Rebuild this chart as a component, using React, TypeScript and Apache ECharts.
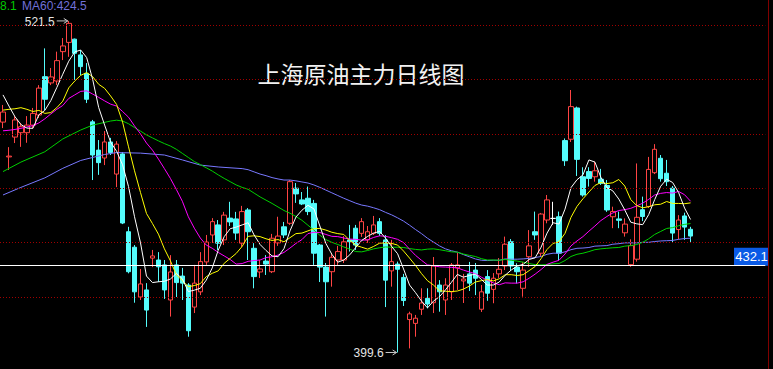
import React, { useEffect, useRef } from "react";
import * as echarts from "echarts";

// ---- data ----
// [open, close, low, high]
const ohlc: number[][] = [
  [484.3, 488.0, 482.1, 490.6], [471.5, 471.8, 466.7, 475.1], [478.8, 485.1, 476.6, 486.5], [480.4, 482.6, 475.2, 484.0],
  [480.4, 483.2, 476.7, 486.5], [483.2, 487.5, 482.1, 489.5], [486.9, 496.8, 485.8, 497.9], [501.0, 492.7, 488.7, 511.4],
  [498.7, 500.9, 497.9, 504.2], [499.4, 506.9, 497.9, 510.2], [510.2, 512.3, 507.1, 515.2], [513.6, 520.6, 508.3, 521.5],
  [514.8, 509.6, 499.8, 515.0], [509.0, 504.7, 501.6, 510.8], [502.2, 492.7, 491.3, 506.0], [484.4, 472.2, 463.0, 485.1],
  [474.0, 469.4, 464.9, 477.7], [471.1, 477.0, 468.5, 481.0], [477.0, 473.1, 472.2, 478.5], [465.2, 476.2, 460.4, 477.3],
  [472.6, 447.2, 446.8, 473.3], [444.0, 429.3, 428.7, 445.8], [438.3, 421.9, 417.9, 439.1], [420.0, 424.8, 418.9, 430.3],
  [422.6, 415.2, 409.0, 425.1], [434.3, 435.1, 431.0, 437.3], [433.6, 431.1, 425.5, 436.5], [431.8, 422.6, 419.3, 433.6],
  [418.9, 429.2, 412.8, 435.4], [431.8, 425.3, 420.0, 433.6], [427.7, 425.1, 418.9, 430.7], [424.4, 407.6, 405.4, 425.1],
  [416.3, 425.1, 414.1, 431.8], [421.9, 433.0, 420.7, 436.5], [432.9, 440.2, 431.8, 442.8], [442.8, 447.7, 439.9, 449.0],
  [446.5, 439.8, 437.3, 448.3], [441.0, 450.1, 439.1, 451.3], [449.0, 447.6, 446.1, 455.0], [448.7, 443.5, 441.0, 451.3],
  [439.8, 451.4, 438.4, 453.5], [452.0, 444.0, 433.6, 452.7], [437.9, 427.5, 423.2, 439.8], [429.2, 430.3, 427.0, 433.6],
  [433.2, 432.1, 428.1, 435.4], [429.3, 441.6, 428.8, 443.2], [439.9, 442.4, 438.8, 449.5], [445.8, 442.8, 441.7, 447.6],
  [447.1, 462.4, 446.5, 463.0], [460.0, 457.9, 454.6, 461.9], [455.7, 454.2, 453.8, 458.6], [456.3, 451.4, 450.1, 460.6],
  [454.4, 436.1, 431.8, 455.7], [439.1, 431.0, 425.5, 439.5], [431.0, 425.6, 412.8, 432.5], [429.3, 434.6, 423.8, 436.2],
  [433.6, 436.7, 431.8, 438.8], [433.6, 440.3, 432.5, 442.4], [441.0, 440.3, 436.7, 446.5], [445.3, 439.1, 437.3, 446.5],
  [443.4, 447.7, 442.1, 449.0], [441.0, 444.0, 439.9, 446.1], [443.4, 446.5, 442.8, 449.8], [447.7, 443.4, 442.4, 449.0],
  [441.0, 426.2, 416.3, 442.8], [429.6, 433.0, 423.8, 441.0], [432.1, 430.2, 399.6, 433.0], [427.2, 418.7, 416.7, 428.5],
  [411.7, 413.8, 401.1, 414.6], [410.3, 412.2, 405.4, 413.4], [415.5, 417.8, 413.4, 423.2], [419.5, 417.4, 415.8, 423.2],
  [417.9, 431.4, 414.1, 434.7], [424.4, 421.9, 414.6, 426.2], [418.9, 424.4, 413.4, 426.9], [421.9, 431.8, 418.9, 432.5],
  [430.7, 431.8, 422.6, 436.2], [425.9, 426.6, 417.8, 428.5], [428.5, 425.1, 422.2, 432.9], [429.9, 426.9, 420.7, 432.5],
  [415.5, 421.9, 414.5, 424.4], [427.5, 421.4, 418.6, 429.9], [422.8, 426.9, 417.7, 428.8], [428.5, 430.2, 427.0, 434.3],
  [431.4, 439.4, 429.9, 442.2], [440.3, 431.4, 429.6, 441.3], [431.0, 429.3, 425.0, 432.4], [423.2, 429.9, 420.1, 432.9],
  [434.8, 438.8, 431.1, 444.6], [444.0, 442.8, 441.0, 451.4], [436.1, 450.5, 434.7, 450.9], [448.3, 455.7, 447.1, 457.5],
  [448.9, 448.9, 446.5, 455.0], [449.5, 436.1, 433.6, 451.4], [477.5, 470.1, 468.2, 478.3], [478.0, 490.0, 477.0, 496.1],
  [489.5, 470.6, 464.5, 490.0], [464.2, 457.5, 456.9, 467.7], [466.1, 463.6, 460.6, 467.7], [464.2, 466.4, 462.4, 469.8],
  [463.3, 461.8, 461.2, 467.1], [461.0, 452.0, 451.3, 463.0], [449.5, 451.4, 445.3, 453.2], [448.7, 448.2, 445.3, 451.4],
  [443.6, 446.8, 442.2, 448.9], [431.9, 438.9, 431.1, 441.2], [433.9, 449.3, 433.0, 469.1], [452.1, 449.6, 447.9, 456.9],
  [453.3, 466.9, 452.7, 471.5], [465.7, 474.3, 465.2, 476.2], [471.0, 463.5, 462.4, 472.2], [465.5, 462.4, 460.8, 470.4],
  [460.0, 443.5, 440.0, 460.8], [444.8, 448.3, 441.2, 450.1], [449.8, 445.7, 441.0, 451.0], [444.9, 442.4, 440.0, 445.8],
];

const ma5: (number | null)[] = [
  494.3, 490.2, 486.3, 483.4, 482.1, 482.0, 487.0, 488.6, 492.2, 497.0,
  501.9, 506.7, 510.1, 510.8, 508.0, 500.0, 489.7, 483.2, 476.9, 473.6,
  468.6, 460.6, 449.5, 439.9, 427.7, 425.3, 425.6, 425.8, 426.6, 428.7,
  426.7, 422.0, 422.5, 423.2, 426.2, 430.7, 437.2, 442.2, 445.1, 445.7,
  446.5, 447.3, 442.8, 439.3, 437.1, 435.1, 434.8, 437.8, 444.3, 449.4,
  451.9, 453.7, 452.4, 446.1, 439.7, 435.7, 432.8, 433.6, 435.5, 438.2,
  440.8, 442.3, 443.5, 444.1, 441.6, 438.6, 435.9, 430.3, 424.4, 421.6,
  418.5, 416.0, 418.5, 420.1, 422.6, 425.4, 428.3, 427.3, 427.9, 428.4,
  426.5, 424.4, 424.4, 425.5, 428.0, 429.9, 431.4, 432.0, 433.8, 434.4,
  438.3, 443.5, 447.3, 446.8, 452.3, 460.2, 463.1, 464.9, 470.4, 469.6,
  464.0, 460.3, 459.0, 456.0, 452.0, 447.5, 446.9, 446.6, 450.3, 455.8,
  460.7, 463.3, 462.1, 458.4, 452.7, 448.5,
];

const ma10: (number | null)[] = [
  488.7, 489.0, 489.2, 489.6, 489.0, 488.2, 488.6, 487.5, 487.8, 489.6,
  492.0, 496.9, 499.4, 501.5, 502.5, 501.0, 498.2, 496.7, 493.9, 490.8,
  484.3, 475.2, 466.4, 458.4, 450.7, 447.0, 443.1, 437.7, 433.3, 428.2,
  426.0, 423.8, 424.2, 424.9, 427.5, 428.7, 429.6, 432.4, 434.2, 436.0,
  438.6, 442.3, 442.5, 442.2, 441.4, 440.8, 441.1, 440.3, 441.8, 443.3,
  443.5, 444.3, 445.1, 445.2, 444.6, 443.8, 443.3, 443.0, 440.8, 439.0,
  438.3, 437.6, 438.6, 439.8, 439.9, 439.7, 439.1, 436.9, 434.3, 431.6,
  428.6, 426.0, 424.4, 422.3, 422.1, 422.0, 422.2, 422.9, 424.0, 425.5,
  426.0, 426.4, 425.9, 426.7, 428.2, 428.2, 427.9, 428.2, 429.7, 431.2,
  434.1, 437.5, 439.7, 440.3, 443.4, 449.3, 453.3, 456.1, 458.6, 461.0,
  462.1, 461.7, 462.0, 463.2, 460.8, 455.8, 453.6, 452.8, 453.2, 453.9,
  454.1, 455.1, 454.4, 454.4, 454.3, 454.6,
];

const ma20: (number | null)[] = [
  481.1, 481.3, 481.6, 482.0, 482.5, 483.0, 484.0, 485.5, 487.3, 489.0,
  490.4, 493.0, 494.3, 495.6, 495.8, 494.6, 493.4, 492.1, 490.9, 490.2,
  488.2, 486.1, 482.9, 480.0, 476.6, 474.0, 470.7, 467.2, 463.6, 459.5,
  455.2, 449.5, 445.3, 441.7, 439.1, 437.9, 436.4, 435.1, 433.8, 432.1,
  432.3, 433.1, 433.4, 433.6, 434.5, 434.8, 435.4, 436.4, 438.0, 439.7,
  441.1, 443.3, 443.8, 443.7, 443.0, 442.3, 442.2, 441.7, 441.3, 441.2,
  440.9, 441.0, 441.9, 442.5, 442.3, 441.8, 441.2, 440.0, 437.6, 435.3,
  433.5, 431.8, 431.5, 431.1, 431.0, 430.9, 430.7, 429.9, 429.2, 428.6,
  427.3, 426.2, 425.2, 424.5, 425.2, 425.1, 425.1, 425.6, 426.9, 428.4,
  430.1, 432.0, 432.8, 433.5, 435.8, 438.8, 440.6, 442.2, 444.2, 446.1,
  448.1, 449.6, 450.9, 451.8, 452.1, 452.6, 453.5, 454.5, 455.9, 457.5,
  458.1, 458.4, 458.2, 458.8, 457.6, 455.2,
];

const ma40: (number | null)[] = [
  466.1, null, null, 469.6, null, null, null, 473.4, null, null,
  478.1, null, null, 481.4, null, 483.2, null, null, 484.7, 485.0,
  484.7, 483.7, 482.3, 481.0, 479.6, 478.5, 477.4, 476.4, 475.5, 474.3,
  472.8, 471.3, 469.8, 468.7, 467.5, 466.3, 464.9, 463.6, 462.4, 461.2,
  460.3, 459.6, 458.2, 456.8, 455.6, 454.4, 453.1, 451.8, 450.8, 449.6,
  448.2, 446.4, 444.6, 442.7, 441.1, 440.1, 439.3, 438.4, 437.6, 436.7,
  436.6, 437.1, 437.7, 438.1, 438.4, 438.3, 438.3, 438.2, 437.8, 437.5,
  437.3, 437.6, 437.7, 437.4, 437.0, 436.6, 436.5, 435.8, 435.3, 434.9,
  434.1, 433.6, 433.6, 433.5, 433.8, 433.5, 433.2, 432.8, 432.3, 431.9,
  431.8, 431.9, 432.2, 432.3, 433.4, 434.9, 435.7, 436.1, 436.7, 437.4,
  437.7, 437.9, 438.1, 438.2, 438.7, 438.9, 439.3, 440.1, 441.4, 443.0,
  444.1, 445.2, 445.5, 446.2, 446.7, 447.0,
];

const ma60: (number | null)[] = [
  457.5, null, null, 460.3, null, null, null, 463.8, null, null,
  467.3, null, null, 470.2, null, null, null, 472.4, null, 473.1,
  null, null, null, 472.9, null, null, null, 472.2, null, null,
  470.4, null, null, 468.5, null, null, 467.8, null, null, null,
  467.2, 466.8, 466.0, 465.2, 464.6, 463.9, 463.4, 463.0, 463.0, 462.7,
  462.3, 461.9, 461.2, 460.3, 459.3, 458.3, 457.3, 456.3, 455.4, 454.5,
  453.8, 453.4, 452.8, 452.1, 451.1, 450.2, 449.1, 447.9, 446.4, 444.8,
  443.3, 441.6, 440.2, 438.8, 437.7, 437.0, 436.5, 435.6, 434.8, 434.0,
  433.5, 433.4, 433.5, 433.5, 434.0, 433.9, 433.9, 434.0, 434.2, 434.5,
  434.9, 435.7, 436.1, 436.1, 436.6, 437.4, 437.9, 438.0, 438.2, 438.7,
  438.8, 438.9, 439.4, 439.6, 439.9, 439.9, 439.9, 440.1, 440.1, 440.4,
  440.6, 440.7, 440.8, 441.2, 441.5, 441.6,
];

const gridLevels = [420, 440, 460, 480, 500, 520];
const highIndex = 11;
const highValue = 521.5;
const lowIndex = 66;
const lowValue = 399.6;
const crossValue = 431.5;
const crossLabel = "432.1";
const legendTail = "8.1";
const legendMa60 = "MA60:424.5";
const titleText = "上海原油主力日线图";

// ---- layout / style ----
const SLOTS = 128;
const RED = "#ff4444";
const CYAN = "#54fcfc";
const C_MA5 = "#ffffff";
const C_MA10 = "#ffff00";
const C_MA20 = "#ff00ff";
const C_MA40 = "#00d000";
const C_MA60 = "#7878ff";
const GRID_RED = "#a00000";

export default function App() {
  const ref = useRef<HTMLDivElement>(null);

  useEffect(() => {
    if (!ref.current) return;
    const chart = echarts.init(ref.current, undefined, { renderer: "svg" });
    const categories = Array.from({ length: SLOTS }, (_, i) => "D" + (i + 1));

    const candleData = ohlc.map((d) =>
      d[0] === d[1]
        ? {
            value: d,
            itemStyle: { color: "#ffffff", color0: "#ffffff", borderColor: "#ffffff", borderColor0: "#ffffff", borderColorDoji: "#ffffff" },
          }
        : d
    );

    const maLine = (name: string, data: (number | null)[], color: string) => ({
      name,
      type: "line",
      data,
      symbol: "none",
      connectNulls: true,
      silent: true,
      lineStyle: { color, width: 1 },
      z: 3,
    });

    chart.setOption({
      animation: false,
      backgroundColor: "#000000",
      grid: { left: -2.7, top: 0, width: 768, height: 369, containLabel: false },
      xAxis: {
        type: "category",
        data: categories,
        boundaryGap: true,
        show: false,
      },
      yAxis: {
        type: "value",
        min: 393.53,
        max: 529.19,
        show: false,
        splitLine: { show: false },
      },
      series: [
        {
          name: "K",
          type: "candlestick",
          data: candleData,
          barWidth: 5,
          silent: true,
          itemStyle: {
            color: "#000000",
            color0: CYAN,
            borderColor: RED,
            borderColor0: CYAN,
            borderColorDoji: "#ffffff",
            borderWidth: 1,
          },
          markLine: {
            silent: true,
            symbol: "none",
            label: { show: false },
            animation: false,
            data: [
              ...gridLevels.map((v) => ({
                yAxis: v,
                lineStyle: { color: GRID_RED, type: [1, 2], width: 1 },
              })),
              { yAxis: crossValue, lineStyle: { color: "#ffffff", type: "solid", width: 1.2 } },
            ],
          },
          z: 2,
        },
        maLine("MA60", ma60, C_MA60),
        maLine("MA40", ma40, C_MA40),
        maLine("MA20", ma20, C_MA20),
        maLine("MA10", ma10, C_MA10),
        maLine("MA5", ma5, C_MA5),
      ],
    });

    const toPx = (i: number, v: number) =>
      chart.convertToPixel({ xAxisIndex: 0, yAxisIndex: 0 }, [i, v]) as number[];
    const [hx, hy] = toPx(highIndex, highValue);
    const [lx, ly] = toPx(lowIndex, lowValue);
    const [, cy] = toPx(0, crossValue);

    const arrow = (x: number, y: number) => [
      { type: "line", shape: { x1: x - 12, y1: y, x2: x - 1, y2: y }, style: { stroke: "#c8c8c8", lineWidth: 1 } },
      { type: "polyline", shape: { points: [[x - 5, y - 2.5], [x - 1, y], [x - 5, y + 2.5]] }, style: { stroke: "#c8c8c8", lineWidth: 1, fill: null } },
    ];
    const numFont = '12px "Liberation Sans", Arial, sans-serif';

    chart.setOption({
      graphic: [
        {
          type: "text",
          x: 361,
          y: 73,
          style: {
            text: titleText,
            align: "center",
            verticalAlign: "middle",
            fill: "#f2f2f2",
            font: '23px "Noto Sans CJK SC", sans-serif',
          },
        },
        { type: "text", style: { text: highValue.toFixed(1), x: hx - 14, y: hy + 1, align: "right", verticalAlign: "middle", fill: "#e6e6e6", font: numFont } },
        ...arrow(hx, hy),
        { type: "text", style: { text: lowValue.toFixed(1), x: lx - 14, y: ly + 1, align: "right", verticalAlign: "middle", fill: "#e6e6e6", font: numFont } },
        ...arrow(lx, ly),
        { type: "text", style: { text: legendTail, x: 0, y: 6, align: "left", verticalAlign: "middle", fill: "#00c800", font: numFont } },
        { type: "text", style: { text: legendMa60, x: 22, y: 6, align: "left", verticalAlign: "middle", fill: "#7070d8", font: numFont } },
        { type: "rect", shape: { x: 734, y: cy - 18, width: 35, height: 18 }, style: { fill: "#0a5ae6" } },
        { type: "text", style: { text: crossLabel, x: 751.5, y: cy - 9, align: "center", verticalAlign: "middle", fill: "#ffffff", font: '13px "Liberation Sans", Arial, sans-serif' } },
        { type: "line", shape: { x1: 768.5, y1: 0, x2: 768.5, y2: 369 }, style: { stroke: "#800000", lineWidth: 1 } },
      ],
    });

    return () => chart.dispose();
  }, []);

  return (
    <div
      ref={ref}
      style={{ position: "fixed", left: 0, top: 0, width: 773, height: 369, background: "#000" }}
    />
  );
}
